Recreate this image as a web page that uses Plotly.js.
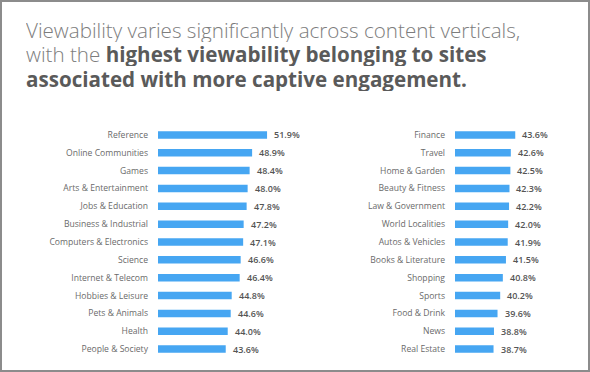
<!DOCTYPE html>
<html>
<head>
<meta charset="utf-8">
<script src="https://cdn.plot.ly/plotly-3.0.1.min.js"></script>
<style>
  html, body { margin: 0; padding: 0; background: #fff; }
  #wrap { position: relative; width: 590px; height: 372px; }
  #chart { width: 590px; height: 372px; }
  #frame { position: absolute; left: 0; top: 0; width: 590px; height: 372px;
           box-sizing: border-box; border: 2px solid #8c8c8c; pointer-events: none; }
</style>
</head>
<body>
<div id="wrap"><div id="chart"></div><div id="frame"></div></div>
<script>
// Viewability share by content vertical, split into two columns
const leftCategories = ["Reference", "Online Communities", "Games", "Arts & Entertainment",
  "Jobs & Education", "Business & Industrial", "Computers & Electronics", "Science",
  "Internet & Telecom", "Hobbies & Leisure", "Pets & Animals", "Health", "People & Society"];
const leftValues = [51.9, 48.9, 48.4, 48.0, 47.8, 47.2, 47.1, 46.6, 46.4, 44.8, 44.6, 44.0, 43.6];

const rightCategories = ["Finance", "Travel", "Home & Garden", "Beauty & Fitness",
  "Law & Government", "World Localities", "Autos & Vehicles", "Books & Literature",
  "Shopping", "Sports", "Food & Drink", "News", "Real Estate"];
const rightValues = [43.6, 42.6, 42.5, 42.3, 42.2, 42.0, 41.9, 41.5, 40.8, 40.2, 39.6, 38.8, 38.7];

const titleLines = [
  "Viewability varies significantly across content verticals,",
  "with the <b><span style=\"color:#5a5a5a\">highest viewability belonging to sites</span></b>",
  "<b><span style=\"color:#5a5a5a\">associated with more captive engagement.</span></b>"
];

const W = 590, H = 372;
const barColor = "#46a6f2";
const labelFont = { family: "Open Sans, sans-serif", size: 8.6, color: "#6a6a6a" };
const valueFont = { family: "Open Sans, sans-serif", size: 9, color: "#555", weight: 600 };

const fmt = v => v.toFixed(1) + "%";

function barTrace(cats, vals, xa, ya) {
  return {
    type: "bar", orientation: "h",
    x: vals, y: cats, xaxis: xa, yaxis: ya,
    marker: { color: barColor },
    width: 0.42, hoverinfo: "skip"
  };
}

function valueNotes(cats, vals, xa, ya) {
  return vals.map((v, i) => ({
    x: v, y: cats[i], xref: xa, yref: ya,
    text: fmt(v), showarrow: false,
    xanchor: "left", yanchor: "middle", xshift: 5,
    font: valueFont
  }));
}

const plotTop = 125.8, plotBottom = 358.2;
const plotH = plotBottom - plotTop;
const py = p => (H - (H - plotBottom) - p) / plotH;

const titleNotes = titleLines.map((t, i) => ({
  x: 24 / W, y: py([29.5, 54, 78.5][i]), xref: "paper", yref: "paper",
  xanchor: "left", yanchor: "middle", showarrow: false, text: t, height: 24,
  font: { family: "Open Sans, sans-serif", size: 20.6, color: "#7d7d7d", weight: 300 }
}));

const yCommon = {
  type: "category", autorange: "reversed", showgrid: false, zeroline: false,
  showline: false, ticks: "", ticklabelstandoff: 9, tickfont: labelFont, fixedrange: true
};
const xCommon = {
  showgrid: false, zeroline: false, showline: false, showticklabels: false, ticks: "", fixedrange: true
};

const layout = {
  width: W, height: H,
  margin: { l: 0, r: 0, t: plotTop, b: H - plotBottom, pad: 0 },
  paper_bgcolor: "#fff", plot_bgcolor: "#fff",
  showlegend: false,
  xaxis: Object.assign({}, xCommon, { domain: [158 / W, 300 / W], range: [30, 30 + 142 / 4.98], anchor: "y" }),
  yaxis: Object.assign({}, yCommon, { anchor: "x" }),
  xaxis2: Object.assign({}, xCommon, { domain: [455 / W, 580 / W], range: [30, 30 + 125 / 4.43], anchor: "y2" }),
  yaxis2: Object.assign({}, yCommon, { anchor: "x2" }),
  annotations: titleNotes
    .concat(valueNotes(leftCategories, leftValues, "x", "y"))
    .concat(valueNotes(rightCategories, rightValues, "x2", "y2"))
};

Plotly.newPlot("chart", [
  barTrace(leftCategories, leftValues, "x", "y"),
  barTrace(rightCategories, rightValues, "x2", "y2")
], layout, { displayModeBar: false, staticPlot: true });
</script>
</body>
</html>
